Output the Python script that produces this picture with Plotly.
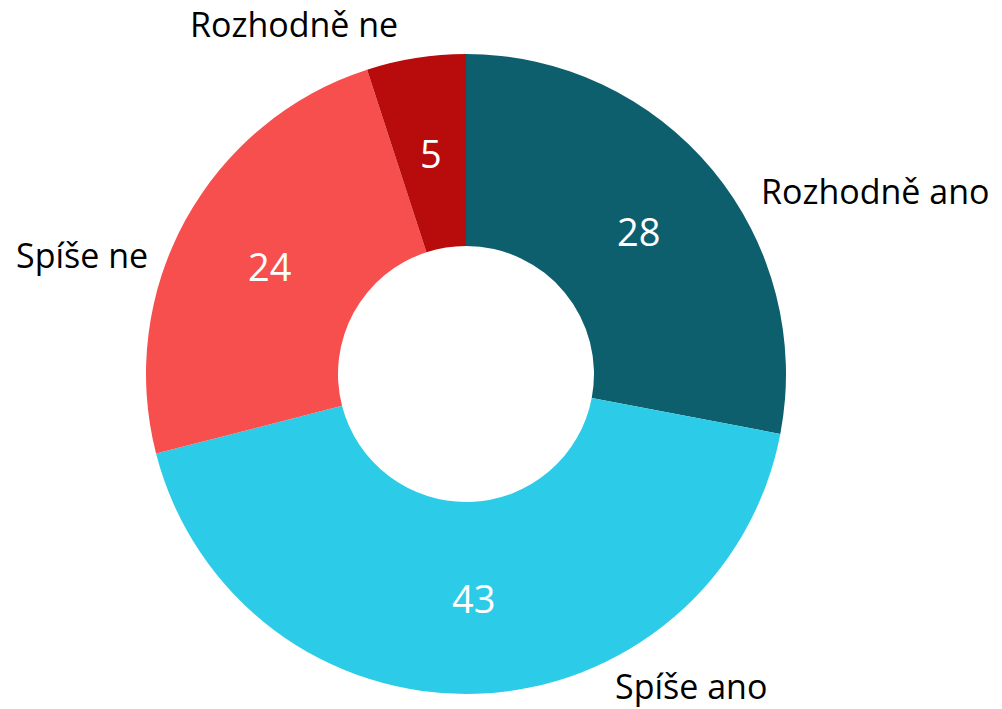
import math
import plotly.graph_objects as go

# Survey answers and their shares (percent)
categories = ["Rozhodně ano", "Spíše ano", "Spíše ne", "Rozhodně ne"]
values = [28, 43, 24, 5]
colors = ["#0d5f6e", "#2ccce8", "#f74f4d", "#b80c0c"]

W, H = 1002, 709
FONT = "Segoe UI, Open Sans, Noto Sans, sans-serif"

# ring geometry in pixels
cx, cy, r = 466, 374, 320
HOLE = 0.4

fig = go.Figure(
    go.Pie(
        labels=categories,
        values=values,
        marker=dict(colors=colors, line=dict(width=0)),
        hole=HOLE,
        sort=False,
        direction="clockwise",
        rotation=0,
        textinfo="none",
        showlegend=False,
        domain=dict(
            x=[(cx - r) / W, (cx + r) / W],
            y=[1 - (cy + r) / H, 1 - (cy - r) / H],
        ),
    )
)

# value labels centred in the ring, at each slice's mid angle
total = sum(values)
mid_r = r * (1 + HOLE) / 2
acc = 0
for v in values:
    ang = 2 * math.pi * (acc + v / 2) / total
    acc += v
    px = cx + mid_r * math.sin(ang)
    py = cy - mid_r * math.cos(ang)
    fig.add_annotation(
        x=px / W, y=1 - py / H, xref="paper", yref="paper",
        text=str(v), showarrow=False, xanchor="center", yanchor="middle",
        font=dict(family=FONT, size=38, color="white"),
    )

# category captions placed around the ring: (x px, y px, anchor)
caption_pos = [
    (759, 191, "left"),
    (613, 686, "left"),
    (150, 255, "right"),
    (188, 24, "left"),
]
for name, (px, py, anchor) in zip(categories, caption_pos):
    fig.add_annotation(
        x=px / W, y=1 - py / H, xref="paper", yref="paper",
        text=name, showarrow=False, xanchor=anchor, yanchor="middle",
        font=dict(family=FONT, size=34, color="black"),
    )

fig.update_layout(
    width=W, height=H,
    margin=dict(l=0, r=0, t=0, b=0),
    paper_bgcolor="white",
    plot_bgcolor="white",
)

fig.write_html("out.html")
